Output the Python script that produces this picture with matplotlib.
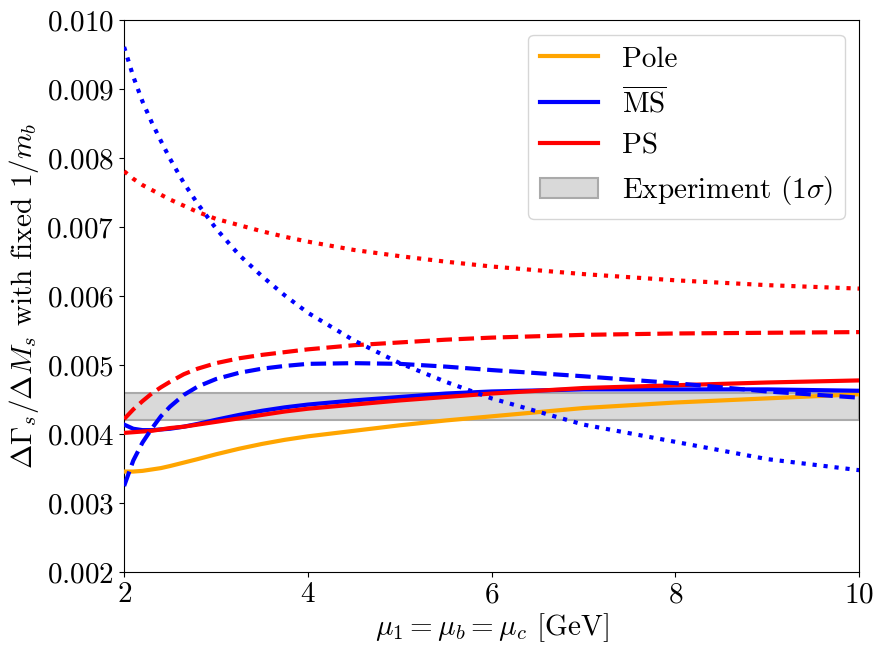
import matplotlib
matplotlib.use("Agg")
import matplotlib.pyplot as plt

plt.rcParams['font.family'] = 'serif'
plt.rcParams['font.serif'] = ['cmr10']
plt.rcParams['mathtext.fontset'] = 'cm'
plt.rcParams['axes.formatter.use_mathtext'] = True

mu = [2.0, 2.1, 2.2, 2.3, 2.4, 2.5, 2.65, 2.8, 3.0, 3.25, 3.5, 3.75, 4.0,
      4.5, 5.0, 5.5, 6.0, 7.0, 8.0, 9.0, 10.0]

pole_solid = [0.00346, 0.00346, 0.00347, 0.00349, 0.00351, 0.00354, 0.00359, 0.00364,
              0.00371, 0.00379, 0.00386, 0.00392, 0.00397,
              0.00405, 0.00413, 0.00420, 0.00426, 0.00438, 0.00446, 0.00452, 0.00458]
ms_solid = [0.00414, 0.00408, 0.00406, 0.00406, 0.00407, 0.00408, 0.00411, 0.00415,
            0.00421, 0.00428, 0.00434, 0.00439, 0.00443,
            0.00449, 0.00454, 0.00459, 0.00462, 0.00465, 0.00465, 0.00465, 0.00463]
ps_solid = [0.00402, 0.00403, 0.00404, 0.00405, 0.00407, 0.00409, 0.00411, 0.00414,
            0.00418, 0.00423, 0.00428, 0.00433, 0.00437,
            0.00443, 0.00449, 0.00454, 0.00459, 0.00467, 0.00471, 0.00475, 0.00478]
ms_dashed = [0.00325, 0.00362, 0.00388, 0.00408, 0.00426, 0.00440, 0.00457, 0.00469,
             0.00480, 0.00489, 0.00495, 0.00499, 0.00502,
             0.00503, 0.00502, 0.00498, 0.00493, 0.00484, 0.00474, 0.00462, 0.00453]
ps_dashed = [0.00422, 0.00436, 0.00448, 0.00459, 0.00468, 0.00476, 0.00487, 0.00495,
             0.00503, 0.00510, 0.00515, 0.00519, 0.00523,
             0.00529, 0.00533, 0.00537, 0.00540, 0.00544, 0.00546, 0.00547, 0.00548]
ms_dotted = [0.00961, 0.00918, 0.00882, 0.00852, 0.00825, 0.00799, 0.00764, 0.00734,
             0.00698, 0.00660, 0.00629, 0.00601, 0.00576,
             0.00536, 0.00503, 0.00476, 0.00452, 0.00414, 0.00389, 0.00364, 0.00348]
ps_dotted = [0.00781, 0.00770, 0.00761, 0.00754, 0.00747, 0.00740, 0.00731, 0.00722,
             0.00712, 0.00703, 0.00694, 0.00686, 0.00679,
             0.00667, 0.00658, 0.00650, 0.00643, 0.00632, 0.00623, 0.00616, 0.00611]

exp_low, exp_high = 0.0042, 0.0046

fig = plt.figure(figsize=(8.74, 6.46), dpi=100)
ax = fig.add_axes([0.142, 0.114, 0.841, 0.855])

lw = 3
ax.axhspan(exp_low, exp_high, facecolor='#d9d9d9', edgecolor='#aaaaaa', lw=1.5,
           label=r'Experiment $(1\sigma)$', zorder=1)
ax.plot(mu, pole_solid, color='orange', lw=lw, label='Pole', zorder=3)
ax.plot(mu, ms_solid, color='blue', lw=lw, label=r'$\overline{\rm MS}$', zorder=3)
ax.plot(mu, ps_solid, color='red', lw=lw, label='PS', zorder=3)
ax.plot(mu, ms_dashed, color='blue', lw=lw, ls='--', zorder=3)
ax.plot(mu, ps_dashed, color='red', lw=lw, ls='--', zorder=3)
ax.plot(mu, ms_dotted, color='blue', lw=lw, ls=':', zorder=3)
ax.plot(mu, ps_dotted, color='red', lw=lw, ls=':', zorder=3)

ax.set_xlim(2, 10)
ax.set_ylim(0.002, 0.010)
ax.set_xticks([2, 4, 6, 8, 10])
ax.set_yticks([0.002, 0.003, 0.004, 0.005, 0.006, 0.007, 0.008, 0.009, 0.010])
ax.tick_params(labelsize=21)
ax.set_xlabel(r'$\mu_1=\mu_b=\mu_c$ [GeV]', fontsize=21, labelpad=2)
ax.set_ylabel(r'$\Delta\Gamma_s/\Delta M_s$ with fixed $1/m_b$', fontsize=21)

h, l = ax.get_legend_handles_labels()
order = [1, 2, 3, 0]
ax.legend([h[i] for i in order], [l[i] for i in order], loc='upper right', fontsize=21)

fig.savefig('out.png', dpi=100)
